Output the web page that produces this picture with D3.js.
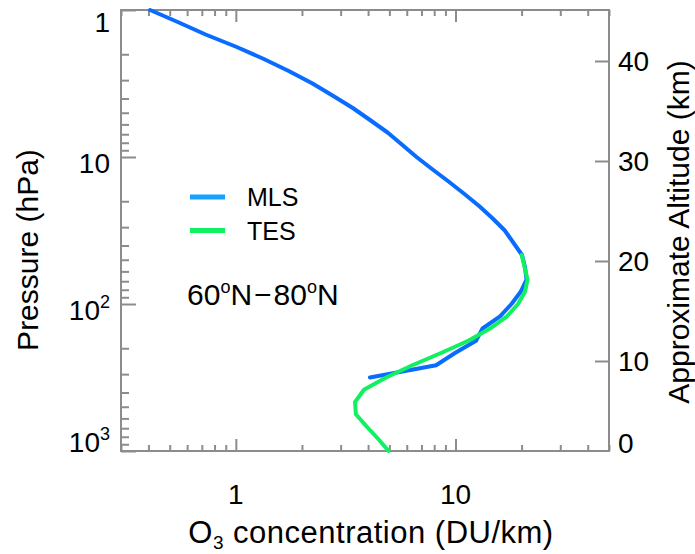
<!DOCTYPE html>
<html><head><meta charset="utf-8">
<script src="https://cdn.jsdelivr.net/npm/d3@7"></script>
<style>
html,body{margin:0;padding:0;background:#fff;}
text{font-family:"Liberation Sans",Arial,Helvetica,sans-serif;fill:#000;}
</style></head>
<body><svg id="c" width="695" height="554"></svg>
<script>
// ---- data ----
const mlsPressure = [1,1.468,2.154,3.162,4.642,6.813,10,14.68,21.54,31.62,46.42,68.13,100,146.8,215.4,316.2,
  1.212,1.778,2.610,3.831,5.623,8.254,12.12,17.78,26.10,38.31,56.23,82.54,121.2,177.8,261.0];
const mlsO3Raw = [0.407,0.728,1.341,2.234,3.408,4.908,6.646,9.30,12.81,16.77,20.09,21.06,17.99,13.28,9.95,4.08,
  0.547,1.003,1.750,2.767,4.097,5.716,7.845,10.95,14.74,18.35,20.73,19.81,15.95,12.40,8.16];
const tesPressure = [46.42,56.23,68.13,82.54,100,121.2,146.8,177.8,215.4,261.0,316.2,383.1,464.2,562.3,681.3,825.4,1000];
const tesO3 = [20.03,20.64,21.28,20.73,19.26,17.16,14.36,11.44,8.59,6.36,4.83,3.83,3.49,3.52,3.94,4.44,4.96];
const seriesNames = ["MLS","TES"];
const xMajorTicks = [1,10];
const xMinorTicks = [0.3,0.4,0.5,0.6,0.7,0.8,0.9,2,3,4,5,6,7,8,9,20,30,40,50];
const yMajorTicks = [1,10,100,1000];
const yMajorLabels = [["1",""],["10",""],["10","2"],["10","3"]];
const yMinorTicks = [2,3,4,5,6,7,8,9,20,30,40,50,60,70,80,90,200,300,400,500,600,700,800,900];
const altTicks = [0,10,20,30,40];

// ---- layout ----
const L=121,R=609,T=10,B=451;
const svg=d3.select("#c");
const x=d3.scaleLog().domain([0.3,50]).range([L,R]);
const y=d3.scaleLog().domain([1,1000]).range([T,B]);
const alt=d3.scaleLinear().domain([10,40]).range([361,61]);
const axisCol="#8c8c8c";

// frame
svg.append("rect").attr("x",L).attr("y",T).attr("width",R-L).attr("height",B-T)
  .attr("fill","none").attr("stroke",axisCol).attr("stroke-width",2);

function styleAxis(g){g.select(".domain").remove();g.selectAll("line").attr("stroke",axisCol).attr("stroke-width",2);g.selectAll("text").remove();}
svg.append("g").attr("transform",`translate(0,${B})`).call(d3.axisBottom(x).tickValues(xMinorTicks).tickSize(-6)).call(styleAxis);
svg.append("g").attr("transform",`translate(0,${B})`).call(d3.axisBottom(x).tickValues(xMajorTicks).tickSize(-12)).call(styleAxis);
svg.append("g").attr("transform",`translate(0,${T})`).call(d3.axisTop(x).tickValues(xMinorTicks).tickSize(-6)).call(styleAxis);
svg.append("g").attr("transform",`translate(0,${T})`).call(d3.axisTop(x).tickValues(xMajorTicks).tickSize(-12)).call(styleAxis);
svg.append("g").attr("transform",`translate(${L},0)`).call(d3.axisLeft(y).tickValues(yMinorTicks).tickSize(-8)).call(styleAxis);
svg.append("g").attr("transform",`translate(${L},0)`).call(d3.axisLeft(y).tickValues(yMajorTicks).tickSize(-15)).call(styleAxis);
svg.append("g").attr("transform",`translate(${R},0)`).call(d3.axisRight(alt).tickValues(altTicks.filter(d=>d>0)).tickSize(-14)).call(styleAxis);

// x tick labels
svg.append("g").selectAll("text").data(xMajorTicks).join("text")
  .attr("x",d=>x(d)).attr("y",504).attr("text-anchor","middle").attr("font-size",28).text(d=>d);
// y tick labels
const yl=svg.append("g").selectAll("text").data(yMajorTicks).join("text")
  .attr("x",110).attr("y",d=>Math.max(22,Math.min(442,y(d)+6))+10).attr("text-anchor","end").attr("font-size",28);
yl.each(function(d,i){
  const t=d3.select(this);const lab=yMajorLabels[i];
  t.append("tspan").text(lab[0]);
  if(lab[1]){t.append("tspan").attr("font-size",18).attr("dy",-12).text(lab[1]);}
});
// altitude labels
svg.append("g").selectAll("text").data(altTicks).join("text")
  .attr("x",618).attr("y",d=>Math.min(alt(d),443)+10).attr("font-size",28).text(d=>d);

// axis titles
const xt=svg.append("text").attr("x",371).attr("y",543).attr("text-anchor","middle").attr("font-size",31).attr("letter-spacing",0.5);
xt.append("tspan").text("O");
xt.append("tspan").attr("font-size",19).attr("dy",6).text("3");
xt.append("tspan").attr("dy",-6).text(" concentration (DU/km)");
svg.append("text").attr("transform","translate(38,250) rotate(-90)").attr("text-anchor","middle").attr("font-size",30).text("Pressure (hPa)");
svg.append("text").attr("transform","translate(689,232) rotate(-90)").attr("text-anchor","middle").attr("font-size",30).text("Approximate Altitude (km)");

// curves
const colors={MLS:"#0a6cff",TES:"#10f060"};
const legendColors={MLS:"#18a0ff",TES:"#10f060"};
const line=d3.line().x(d=>x(d[0])).y(d=>y(d[1]));
const mlsSeries=mlsO3Raw.map((v,i)=>[v,mlsPressure[i]]).sort((a,b)=>a[1]-b[1]);
const series={MLS:mlsSeries,TES:tesO3.map((v,i)=>[v,tesPressure[i]])};
svg.append("g").selectAll("path").data(seriesNames).join("path")
  .attr("d",n=>line(series[n])).attr("fill","none").attr("stroke",n=>colors[n])
  .attr("stroke-width",4).attr("stroke-linejoin","round").attr("stroke-linecap","round");

// legend
const lg=svg.append("g").selectAll("g").data(seriesNames).join("g")
  .attr("transform",(d,i)=>`translate(190,${197+i*33.5})`);
lg.append("line").attr("x1",0).attr("x2",35).attr("stroke",d=>legendColors[d]).attr("stroke-width",5);
lg.append("text").attr("x",57).attr("y",9).attr("font-size",25).text(d=>d);

// region label
const rl=svg.append("text").attr("x",187).attr("y",305).attr("font-size",30);
rl.append("tspan").text("60");
rl.append("tspan").attr("font-size",18).attr("dy",-12).text("o");
rl.append("tspan").attr("dy",12).text("N");
rl.append("tspan").attr("dx",2).text("\u2212");
rl.append("tspan").attr("dx",2).text("80");
rl.append("tspan").attr("font-size",18).attr("dy",-12).text("o");
rl.append("tspan").attr("dy",12).text("N");
</script></body></html>
